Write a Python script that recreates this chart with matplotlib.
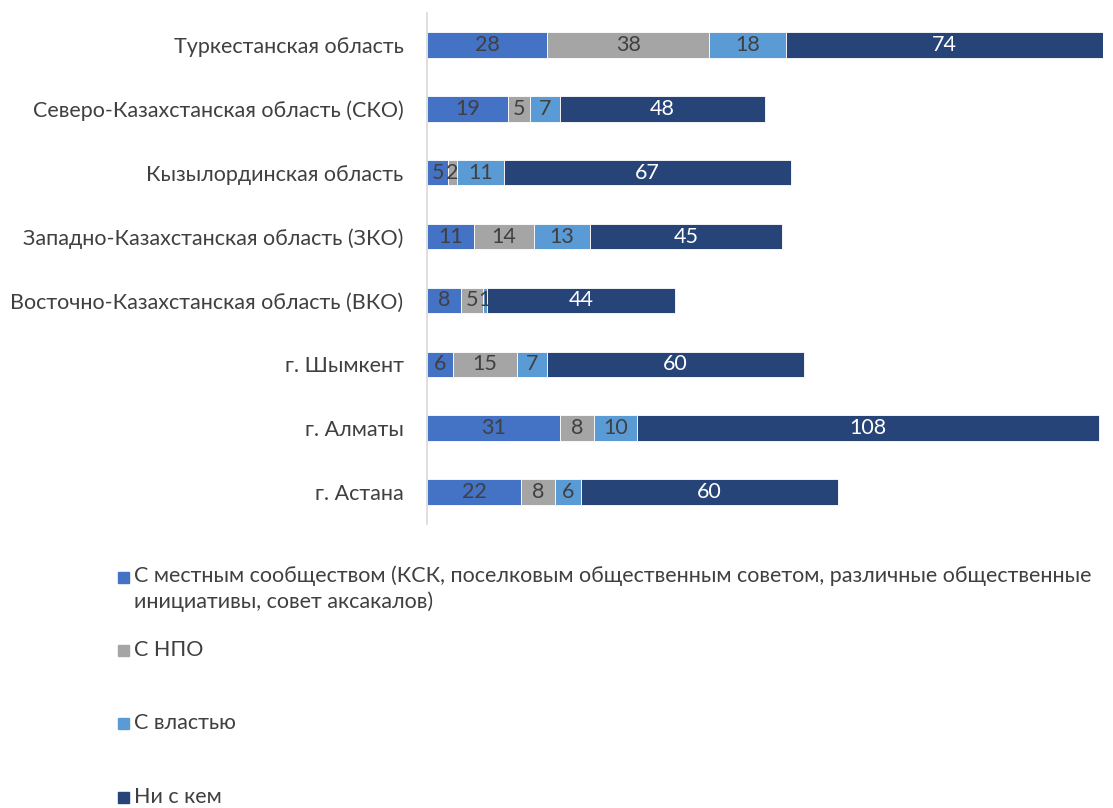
import matplotlib
matplotlib.use("Agg")
import matplotlib.pyplot as plt
from matplotlib.patches import Rectangle

plt.rcParams['font.family'] = ['Lato', 'DejaVu Sans']

categories = ["Туркестанская область", "Северо-Казахстанская область (СКО)",
              "Кызылординская область", "Западно-Казахстанская область (ЗКО)",
              "Восточно-Казахстанская область (ВКО)", "г. Шымкент", "г. Алматы", "г. Астана"]
series_names = ["С местным сообществом (КСК, поселковым общественным советом, различные общественные\nинициативы, совет аксакалов)",
                "С НПО", "С властью", "Ни с кем"]
local_comm = [28, 19, 5, 11, 8, 6, 31, 22]
ngo = [38, 5, 2, 14, 5, 15, 8, 8]
authority = [18, 7, 11, 13, 1, 7, 10, 6]
nobody = [74, 48, 67, 45, 44, 60, 108, 60]

colors = ["#4472C4", "#A5A5A5", "#5B9BD5", "#264478"]
label_colors = ["#404040", "#404040", "#404040", "#FFFFFF"]

W, H = 1113, 808
FS = 15.5
fig = plt.figure(figsize=(W / 100, H / 100), dpi=100)
ax = fig.add_axes([427 / W, 1 - 524 / H, (1103 - 427) / W, (524 - 13) / H])

y = list(range(len(categories)))
left = [0] * len(categories)
for vals, col, lc in zip([local_comm, ngo, authority, nobody], colors, label_colors):
    bars = ax.barh(y, vals, left=left, color=col, height=0.4,
                   edgecolor='white', linewidth=0.6)
    for b, v in zip(bars, vals):
        ax.text(b.get_x() + b.get_width() / 2, b.get_y() + b.get_height() / 2, str(v),
                ha='center', va='center', color=lc, fontsize=FS)
    left = [l + v for l, v in zip(left, vals)]

ax.set_xlim(0, 158)
ax.set_ylim(len(categories) - 0.5, -0.5)
ax.set_yticks(y)
ax.set_yticklabels(categories, fontsize=FS, color="#404040")
ax.tick_params(axis='y', length=0, pad=17)
ax.set_xticks([])
for s in ['top', 'right', 'bottom']:
    ax.spines[s].set_visible(False)
ax.spines['left'].set_color('#D9D9D9')
ax.spines['left'].set_linewidth(1.2)

# legend
legend_y = [577, 650, 723, 797]
for i, (name, col, ly) in enumerate(zip(series_names, colors, legend_y)):
    fig.patches.append(Rectangle((118 / W, 1 - (ly + 6) / H), 11 / W, 11 / H,
                                 transform=fig.transFigure, color=col))
    if '\n' in name:
        fig.text(134 / W, 1 - 565 / H, name, ha='left', va='top',
                 fontsize=FS, color="#404040", linespacing=1.35)
    else:
        fig.text(134 / W, 1 - ly / H, name, ha='left', va='center',
                 fontsize=FS, color="#404040")

fig.savefig("out.png", dpi=100, facecolor='white')
